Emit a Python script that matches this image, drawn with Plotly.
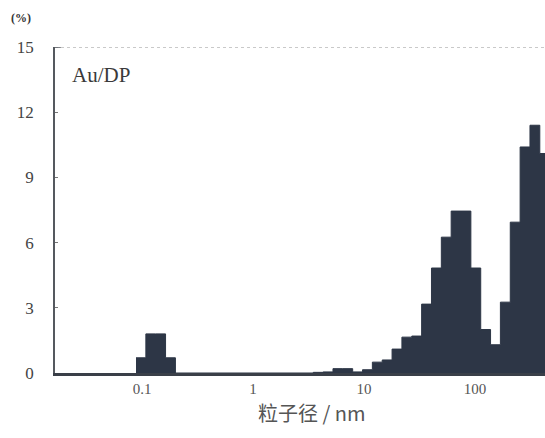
import plotly.graph_objects as go

# Bin edges (nm) of the particle-size histogram and the % value of each bin
bin_edges_nm = [0.0883, 0.1083, 0.1329, 0.1630, 0.2000,
                3.493, 4.285, 5.256, 6.449, 7.910, 9.703, 11.90, 14.60, 17.91,
                21.97, 26.95, 33.07, 40.56, 49.76, 61.04, 74.88, 91.85, 112.7,
                138.2, 169.5, 208.0, 255.1, 313.0, 383.9, 471.0]
bin_values = [0.7, 1.8, 1.8, 0.7, 0.0,
              0.03, 0.05, 0.2, 0.2, 0.05, 0.15, 0.5, 0.6, 1.1,
              1.65, 1.7, 3.17, 4.83, 6.25, 7.45, 7.45, 4.83, 2.0,
              1.3, 3.26, 6.94, 10.4, 11.4, 10.1]

x_tick_vals = [0.1, 1, 10, 100]
x_tick_text = ["0.1", "1", "10", "100"]
y_tick_vals = [0, 3, 6, 9, 12, 15]

bar_color = "#2d3646"

fig = go.Figure()
fig.add_trace(go.Scatter(
    x=bin_edges_nm,
    y=bin_values + [bin_values[-1]],
    mode="lines",
    line=dict(shape="hv", color=bar_color, width=1),
    fill="tozeroy",
    fillcolor=bar_color,
    hoverinfo="skip",
    showlegend=False,
))

fig.update_layout(
    width=545, height=438,
    margin=dict(l=55, r=0, t=47, b=65),
    paper_bgcolor="white", plot_bgcolor="white",
    font=dict(family="Liberation Serif", color="#555555", size=15),
    xaxis=dict(
        type="log", range=[-1.784, 2.631],
        tickvals=x_tick_vals, ticktext=x_tick_text,
        showgrid=False, zeroline=False,
        showline=True, linecolor="#3a3f48", linewidth=2.5,
        ticks="", tickfont=dict(family="Liberation Serif", size=15, color="#555555"),
    ),
    yaxis=dict(
        range=[0, 15], tickvals=y_tick_vals,
        showgrid=False, zeroline=False,
        showline=True, linecolor="#55595f", linewidth=1.5,
        ticks="inside", ticklen=3, tickcolor="#777777",
        tickfont=dict(family="Liberation Serif", size=17, color="#444444"),
        ticklabelstandoff=16,
    ),
)

# faint dotted top frame
fig.add_shape(type="line", xref="paper", yref="y", x0=0, x1=1, y0=15, y1=15,
              line=dict(color="#b8b8b8", width=1.5, dash="dot"))
fig.add_shape(type="line", xref="paper", yref="y", x0=0, x1=0.012, y0=15, y1=15,
              line=dict(color="#55595f", width=1.5))

fig.add_annotation(text="Au/DP", xref="paper", yref="paper", x=0.03, y=0.915,
                   xanchor="left", yanchor="middle", showarrow=False,
                   font=dict(family="Liberation Serif", size=21, color="#3a3a3a"))
fig.add_annotation(text="<b>(%)</b>", xref="paper", yref="paper", x=-0.07, y=1.09,
                   xanchor="center", yanchor="middle", showarrow=False,
                   font=dict(family="Liberation Serif", size=12, color="#333333"))
fig.add_annotation(text="粒子径 / nm", xref="paper", yref="paper", x=0.524, y=-0.12,
                   xanchor="center", yanchor="middle", showarrow=False,
                   font=dict(family="Noto Sans CJK SC", size=20, color="#555555"))

fig.write_html("out.html")
